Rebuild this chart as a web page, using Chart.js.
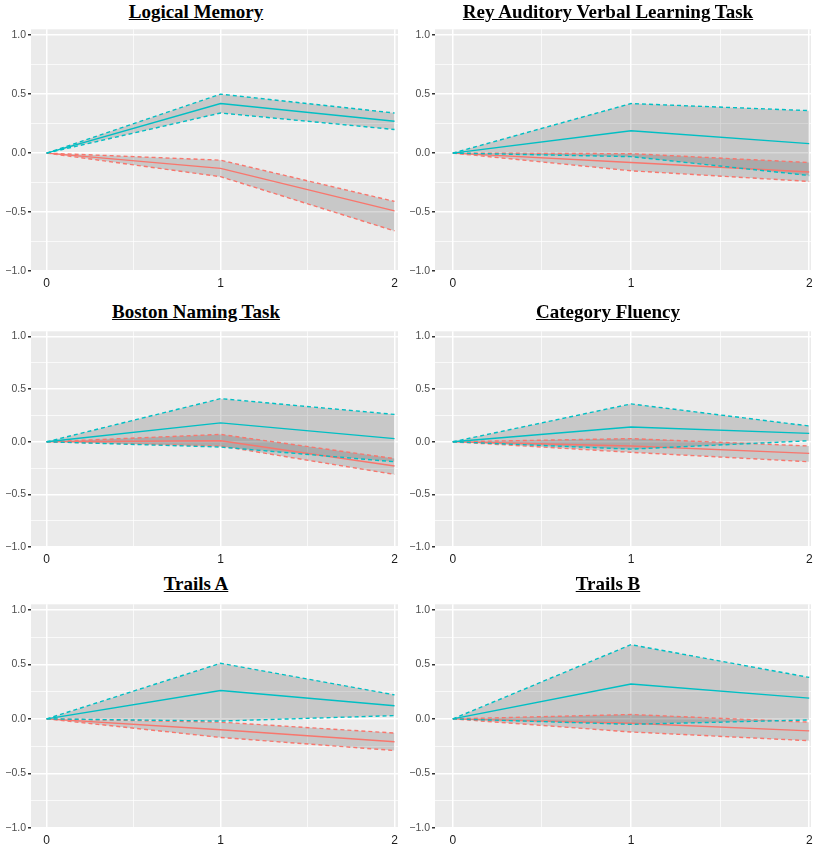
<!DOCTYPE html>
<html>
<head>
<meta charset="utf-8">
<script src="https://cdn.jsdelivr.net/npm/chart.js@4.4.0/dist/chart.umd.min.js"></script>
<style>
body { margin: 0; background: #fff; }
#wrap { position: relative; width: 820px; height: 847px; overflow: hidden; }
.title {
    position: absolute; width: 410px; text-align: center;
    font-family: 'Liberation Serif', 'Times New Roman', serif;
    font-weight: bold; font-size: 19px; line-height: 20px;
    text-decoration: underline; color: #000;
}
canvas { position: absolute; }
</style>
</head>
<body>
<div id="wrap"></div>
<script>

// time points (x) and axis ticks
var visits = [0, 1, 2];
var xGrid = [0, 0.5, 1, 1.5, 2];
var xTickLabels = ['0', '', '1', '', '2'];
var yGrid = [-1, -0.75, -0.5, -0.25, 0, 0.25, 0.5, 0.75, 1];
var yTickLabels = ['\u22121.0', '', '\u22120.5', '', '0.0', '', '0.5', '', '1.0'];

var titles = ['Logical Memory', 'Rey Auditory Verbal Learning Task', 'Boston Naming Task',
              'Category Fluency', 'Trails A', 'Trails B'];

// Logical Memory
var lmTealMean = [0, 0.42, 0.27];
var lmTealHi   = [0, 0.50, 0.34];
var lmTealLo   = [0, 0.34, 0.20];
var lmRedMean  = [0, -0.13, -0.49];
var lmRedHi    = [0, -0.06, -0.41];
var lmRedLo    = [0, -0.20, -0.66];

// Rey Auditory Verbal Learning Task
var raTealMean = [0, 0.19, 0.08];
var raTealHi   = [0, 0.42, 0.36];
var raTealLo   = [0, -0.03, -0.19];
var raRedMean  = [0, -0.08, -0.16];
var raRedHi    = [0, -0.005, -0.08];
var raRedLo    = [0, -0.15, -0.24];

// Boston Naming Task
var bnTealMean = [0, 0.18, 0.03];
var bnTealHi   = [0, 0.41, 0.26];
var bnTealLo   = [0, -0.05, -0.19];
var bnRedMean  = [0, 0.01, -0.23];
var bnRedHi    = [0, 0.07, -0.16];
var bnRedLo    = [0, -0.04, -0.31];

// Category Fluency
var cfTealMean = [0, 0.14, 0.08];
var cfTealHi   = [0, 0.36, 0.15];
var cfTealLo   = [0, -0.07, 0.01];
var cfRedMean  = [0, -0.04, -0.11];
var cfRedHi    = [0, 0.03, -0.04];
var cfRedLo    = [0, -0.10, -0.19];

// Trails A
var taTealMean = [0, 0.26, 0.12];
var taTealHi   = [0, 0.51, 0.22];
var taTealLo   = [0, -0.02, 0.03];
var taRedMean  = [0, -0.10, -0.21];
var taRedHi    = [0, -0.03, -0.13];
var taRedLo    = [0, -0.17, -0.29];

// Trails B
var tbTealMean = [0, 0.32, 0.19];
var tbTealHi   = [0, 0.68, 0.38];
var tbTealLo   = [0, -0.05, -0.01];
var tbRedMean  = [0, -0.04, -0.11];
var tbRedHi    = [0, 0.04, -0.03];
var tbRedLo    = [0, -0.12, -0.20];

var panelData = [
    [lmTealMean, lmTealHi, lmTealLo, lmRedMean, lmRedHi, lmRedLo],
    [raTealMean, raTealHi, raTealLo, raRedMean, raRedHi, raRedLo],
    [bnTealMean, bnTealHi, bnTealLo, bnRedMean, bnRedHi, bnRedLo],
    [cfTealMean, cfTealHi, cfTealLo, cfRedMean, cfRedHi, cfRedLo],
    [taTealMean, taTealHi, taTealLo, taRedMean, taRedHi, taRedLo],
    [tbTealMean, tbTealHi, tbTealLo, tbRedMean, tbRedHi, tbRedLo]
];

// page layout (pixels)
var rowTop = [21, 323, 596];
var rowH = [268, 242, 250];
var titleTop = [2, 302, 574];

var TEAL = '#00BFC4';
var RED = '#F8766D';
var BAND = 'rgba(0, 0, 0, 0.15)';

Chart.defaults.font.family = "'Liberation Sans', Arial, sans-serif";
Chart.defaults.animation = false;

var panelBg = {
    id: 'panelBg',
    beforeDraw: function (chart) {
        var a = chart.chartArea;
        var c = chart.ctx;
        c.save();
        c.fillStyle = '#EBEBEB';
        c.fillRect(a.left, a.top, a.right - a.left, a.bottom - a.top);
        c.restore();
    }
};

function pts(vals) {
    return visits.map(function (v, i) { return { x: v, y: vals[i] }; });
}

function line(vals, color, dashed, fill) {
    return {
        data: pts(vals),
        borderColor: color,
        borderWidth: 1.4,
        borderDash: dashed ? [4, 3] : [],
        pointRadius: 0,
        tension: 0,
        fill: fill ? '+1' : false,
        backgroundColor: BAND
    };
}

// major grid lines every 0.5, minor in between
function isMajor(v) {
    return Math.abs(v * 2 - Math.round(v * 2)) < 1e-6;
}

var wrap = document.getElementById('wrap');

titles.forEach(function (t, i) {
    var row = Math.floor(i / 2);
    var col = i % 2;
    var d = panelData[i];

    var title = document.createElement('div');
    title.className = 'title';
    title.textContent = t;
    title.style.left = (col === 0 ? -9 : 403) + 'px';
    title.style.top = titleTop[row] + 'px';
    wrap.appendChild(title);

    var cv = document.createElement('canvas');
    var w = col === 0 ? 403 : 412;
    cv.width = w;
    cv.height = rowH[row];
    cv.style.width = w + 'px';
    cv.style.height = rowH[row] + 'px';
    cv.style.left = (col === 0 ? 1 : 405) + 'px';
    cv.style.top = rowTop[row] + 'px';
    wrap.appendChild(cv);

    var xMin = col === 0 ? -0.09 : -0.10;
    var xMax = col === 0 ? 2.02 : 2.01;

    new Chart(cv, {
        type: 'line',
        data: {
            datasets: [
                line(d[1], TEAL, true, true),
                line(d[2], TEAL, true, false),
                line(d[0], TEAL, false, false),
                line(d[4], RED, true, true),
                line(d[5], RED, true, false),
                line(d[3], RED, false, false)
            ]
        },
        plugins: [panelBg],
        options: {
            responsive: false,
            layout: { padding: { left: 0, right: 6, top: 0, bottom: 0 } },
            plugins: {
                legend: { display: false },
                tooltip: { enabled: false },
                filler: { propagate: false, drawTime: 'beforeDatasetsDraw' }
            },
            scales: {
                x: {
                    type: 'linear',
                    min: xMin,
                    max: xMax,
                    afterBuildTicks: function (s) { s.ticks = xGrid.map(function (v) { return { value: v }; }); },
                    afterFit: function (s) { s.height = 18; },
                    border: { display: false },
                    grid: {
                        color: '#FFFFFF',
                        lineWidth: function (c) { return Number.isInteger(c.tick.value) ? 1.5 : 0.7; },
                        tickLength: 3,
                        tickColor: 'rgba(0,0,0,0)'
                    },
                    ticks: {
                        autoSkip: false,
                        maxRotation: 0,
                        padding: 2,
                        color: '#1A1A1A',
                        font: { size: 12 },
                        callback: function (v, idx) { return xTickLabels[idx]; }
                    }
                },
                y: {
                    min: -1.0,
                    max: 1.05,
                    afterBuildTicks: function (s) { s.ticks = yGrid.map(function (v) { return { value: v }; }); },
                    afterFit: function (s) { s.width = 30; },
                    border: { display: false },
                    grid: {
                        color: '#FFFFFF',
                        lineWidth: function (c) { return isMajor(c.tick.value) ? 1.5 : 0.7; },
                        tickLength: 3,
                        tickColor: function (c) { return isMajor(c.tick.value) ? '#333333' : 'rgba(0,0,0,0)'; }
                    },
                    ticks: {
                        autoSkip: false,
                        padding: 2,
                        color: '#4D4D4D',
                        font: { size: 10.5 },
                        callback: function (v, idx) { return yTickLabels[idx]; }
                    }
                }
            }
        }
    });
});

</script>
</body>
</html>
